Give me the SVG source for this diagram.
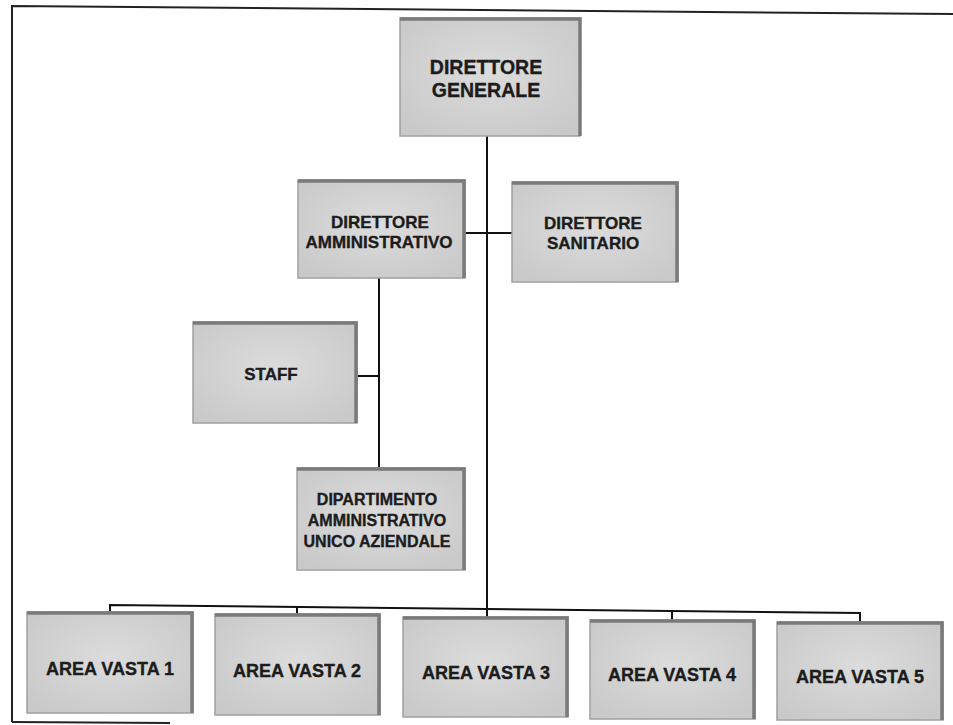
<svg xmlns="http://www.w3.org/2000/svg" width="953" height="725" viewBox="0 0 953 725">
<defs>
<radialGradient id="g" cx="50%" cy="45%" r="65%">
<stop offset="0" stop-color="#dcdcdc"/>
<stop offset="1" stop-color="#c9c9c9"/>
</radialGradient>
</defs>
<style>
.box{fill:url(#g);stroke:#a0a0a0;stroke-width:1.5}
.sh{fill:none;stroke:#7a7a7a;stroke-width:3.5}
.t{font-family:"Liberation Sans",Arial,sans-serif;font-weight:bold;fill:#1c1c1c;stroke:#1c1c1c;stroke-width:0.35;text-anchor:middle}
.ln{stroke:#111;stroke-width:2;fill:none}
.fr{stroke:#222;stroke-width:2;fill:none}
</style>
<rect width="953" height="725" fill="#ffffff"/>
<g id="frame">
<path class="fr" d="M12,722 L12,6 L953,14"/>
<path class="fr" d="M12,722 L170,723" stroke="#555"/>
</g>
<g id="connectors">
<line class="ln" x1="487" y1="136" x2="487" y2="612"/>
<line class="ln" x1="465" y1="233" x2="512" y2="233"/>
<line class="ln" x1="379" y1="278" x2="379" y2="468"/>
<line class="ln" x1="357" y1="376" x2="379" y2="376"/>
<polyline class="ln" points="110,612 110,605 860,613 860,622"/>
<line class="ln" x1="297" y1="607" x2="297" y2="614"/>
<line class="ln" x1="487" y1="610" x2="487" y2="617"/>
<line class="ln" x1="672" y1="612" x2="672" y2="620"/>
</g>
<g id="direttore-generale">
<rect class="box" x="400" y="18" width="180" height="118"/>
<path class="sh" d="M400,19 L580,19 L580,136"/>
<text class="t" font-size="19.5" x="486" y="74">DIRETTORE</text>
<text class="t" font-size="19.5" x="486" y="97">GENERALE</text>
</g>
<g id="direttore-amministrativo">
<rect class="box" x="298" y="180" width="167" height="98"/>
<path class="sh" d="M298,181 L464,181 L464,278"/>
<text class="t" font-size="17" x="380" y="228">DIRETTORE</text>
<text class="t" font-size="17" x="379" y="248">AMMINISTRATIVO</text>
</g>
<g id="direttore-sanitario">
<rect class="box" x="512" y="182" width="166" height="100"/>
<path class="sh" d="M512,183 L677,183 L677,282"/>
<text class="t" font-size="17" x="593" y="229">DIRETTORE</text>
<text class="t" font-size="17" x="593" y="249">SANITARIO</text>
</g>
<g id="staff">
<rect class="box" x="193" y="322" width="164" height="101"/>
<path class="sh" d="M193,323 L356,323 L356,423"/>
<text class="t" font-size="17" x="271" y="380">STAFF</text>
</g>
<g id="dipartimento">
<rect class="box" x="297" y="468" width="168" height="102"/>
<path class="sh" d="M297,469 L464,469 L464,570"/>
<text class="t" font-size="16" x="377" y="505">DIPARTIMENTO</text>
<text class="t" font-size="16" x="377" y="526">AMMINISTRATIVO</text>
<text class="t" font-size="16" x="377" y="547">UNICO AZIENDALE</text>
</g>
<g id="area-vasta-1">
<rect class="box" x="27" y="612" width="166" height="101"/>
<path class="sh" d="M27,613 L192,613 L192,713"/>
<text class="t" font-size="18" x="110" y="675">AREA VASTA 1</text>
</g>
<g id="area-vasta-2">
<rect class="box" x="215" y="614" width="165" height="101"/>
<path class="sh" d="M215,615 L379,615 L379,715"/>
<text class="t" font-size="18" x="297" y="677">AREA VASTA 2</text>
</g>
<g id="area-vasta-3">
<rect class="box" x="403" y="617" width="165" height="100"/>
<path class="sh" d="M403,618 L567,618 L567,717"/>
<text class="t" font-size="18" x="486" y="679">AREA VASTA 3</text>
</g>
<g id="area-vasta-4">
<rect class="box" x="590" y="620" width="165" height="99"/>
<path class="sh" d="M590,621 L754,621 L754,719"/>
<text class="t" font-size="18" x="672" y="681">AREA VASTA 4</text>
</g>
<g id="area-vasta-5">
<rect class="box" x="777" y="622" width="166" height="98"/>
<path class="sh" d="M777,623 L942,623 L942,720"/>
<text class="t" font-size="18" x="860" y="683">AREA VASTA 5</text>
</g>
</svg>
